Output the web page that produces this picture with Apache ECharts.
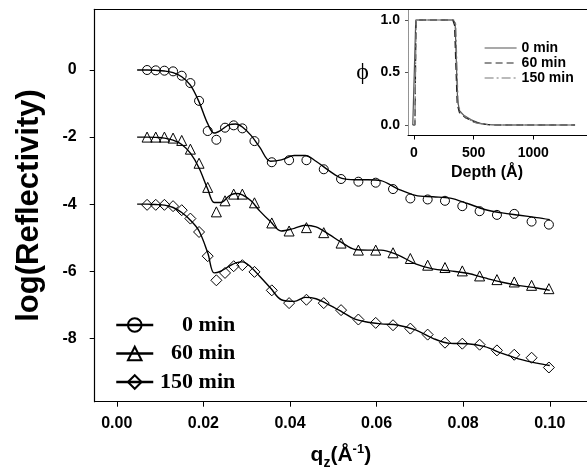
<!DOCTYPE html>
<html>
<head>
<meta charset="utf-8">
<script src="https://cdn.jsdelivr.net/npm/echarts@6/dist/echarts.min.js"></script>
<style>
  html, body { margin: 0; padding: 0; background: #fff; }
  #chart { width: 587px; height: 475px; }
</style>
</head>
<body>
<div id="chart"></div>
<script>
// Measured reflectivity (log10) versus momentum transfer q_z, three annealing times
const qData = [0.007, 0.009, 0.011, 0.013, 0.015, 0.017, 0.019, 0.021, 0.023, 0.025,
  0.027, 0.029, 0.0318, 0.0358, 0.0398, 0.0438, 0.0478, 0.0518, 0.0558, 0.0598,
  0.0638, 0.0678, 0.0718, 0.0758, 0.0798, 0.0838, 0.0878, 0.0918, 0.0958, 0.0998];
const refl0 = [0, -0.01, -0.02, -0.04, -0.17, -0.39, -0.92, -1.82, -2.08, -1.72,
  -1.65, -1.74, -2.12, -2.75, -2.69, -2.69, -2.96, -3.25, -3.33, -3.36,
  -3.55, -3.83, -3.86, -3.90, -4.06, -4.21, -4.32, -4.29, -4.52, -4.61];
const refl60 = [-2.0, -2.0, -2.0, -2.03, -2.1, -2.36, -2.78, -3.5, -4.23, -3.9,
  -3.7, -3.7, -3.96, -4.56, -4.8, -4.7, -4.85, -5.16, -5.37, -5.37,
  -5.45, -5.62, -5.82, -5.89, -5.99, -6.14, -6.25, -6.32, -6.42, -6.52];
const refl150 = [-4.02, -4.02, -4.02, -4.06, -4.18, -4.43, -4.83, -5.55, -6.27, -6.05,
  -5.85, -5.82, -6.02, -6.57, -6.95, -6.85, -6.95, -7.16, -7.44, -7.54,
  -7.61, -7.71, -7.89, -8.13, -8.16, -8.19, -8.36, -8.49, -8.58, -8.87];

// Model fits
const qFit = [0.0047, 0.007, 0.009, 0.011, 0.013, 0.015, 0.017, 0.019, 0.021, 0.0225,
  0.024, 0.026, 0.0275, 0.029, 0.031, 0.033, 0.0355, 0.038, 0.041, 0.0435,
  0.046, 0.049, 0.052, 0.055, 0.058, 0.061, 0.065, 0.069, 0.073, 0.077,
  0.081, 0.085, 0.089, 0.093, 0.097, 0.1];
const fit0 = [0, 0, -0.01, -0.03, -0.08, -0.2, -0.45, -0.95, -1.6, -1.88,
  -1.8, -1.63, -1.61, -1.7, -1.95, -2.3, -2.72, -2.68, -2.55, -2.55,
  -2.72, -3.0, -3.23, -3.27, -3.27, -3.3, -3.55, -3.74, -3.78, -3.82,
  -3.98, -4.16, -4.26, -4.33, -4.4, -4.46];
const fit60 = [-2.0, -2.0, -2.01, -2.03, -2.09, -2.22, -2.48, -2.92, -3.55, -3.95,
  -3.95, -3.75, -3.68, -3.72, -3.9, -4.2, -4.52, -4.8, -4.72, -4.63,
  -4.68, -4.9, -5.15, -5.35, -5.37, -5.37, -5.52, -5.78, -5.93, -5.99,
  -6.06, -6.2, -6.33, -6.43, -6.5, -6.57];
const fit150 = [-4.0, -4.0, -4.01, -4.03, -4.1, -4.25, -4.48, -4.8, -5.45, -6.05,
  -6.0, -5.85, -5.75, -5.72, -5.88, -6.15, -6.5, -6.85, -6.9, -6.78,
  -6.82, -7.0, -7.21, -7.43, -7.52, -7.57, -7.61, -7.75, -8.0, -8.15,
  -8.16, -8.25, -8.45, -8.62, -8.74, -8.81];

// Volume-fraction depth profiles (inset)
const depth0 = [-10, 5, 15, 330, 345, 355, 365, 380, 420, 480, 540, 600, 700, 1350];
const phi0 = [0, 0, 1, 1, 0.97, 0.6, 0.25, 0.14, 0.09, 0.05, 0.02, 0.005, 0, 0];
const depth60 = [-10, 8, 18, 325, 340, 350, 362, 380, 430, 500, 580, 650, 1350];
const phi60 = [0, 0, 1, 1, 0.95, 0.6, 0.2, 0.12, 0.07, 0.03, 0.01, 0, 0];
const depth150 = [-10, 8, 18, 335, 350, 360, 370, 390, 450, 520, 600, 700, 1350];
const phi150 = [0, 0, 1, 1, 0.96, 0.55, 0.2, 0.12, 0.06, 0.02, 0.005, 0, 0];

const timeLabels = ['0 min', '60 min', '150 min'];
const qTicks = [0, 0.02, 0.04, 0.06, 0.08, 0.1];
const reflTicks = [-8, -6, -4, -2, 0];
const depthTicks = [0, 500, 1000];
const phiTicks = [0, 0.5, 1.0];

const zip = (xs, ys) => xs.map((x, i) => [x, ys[i]]);

const SANS = 'Liberation Sans, Arial, sans-serif';
const SERIF = 'Liberation Serif, Times New Roman, serif';

const markerSeries = [
  { name: timeLabels[0], data: zip(qData, refl0), symbol: 'circle', symbolSize: 9 },
  { name: timeLabels[1], data: zip(qData, refl60), symbol: 'triangle', symbolSize: 10 },
  { name: timeLabels[2], data: zip(qData, refl150), symbol: 'diamond', symbolSize: 11 }
].map(s => ({
  type: 'line',
  name: s.name,
  data: s.data,
  xAxisIndex: 0, yAxisIndex: 0,
  symbol: s.symbol,
  symbolSize: s.symbolSize,
  showAllSymbol: true,
  itemStyle: { color: 'rgba(0,0,0,0)', borderColor: '#000', borderWidth: 1 },
  lineStyle: { width: 0, opacity: 0 },
  z: 4,
  animation: false
}));

const fitSeries = [fit0, fit60, fit150].map((f, i) => ({
  type: 'line',
  name: timeLabels[i] + ' fit',
  data: zip(qFit, f),
  xAxisIndex: 0, yAxisIndex: 0,
  showSymbol: false,
  smooth: 0.35,
  lineStyle: { color: '#000', width: 1.4 },
  z: 3,
  animation: false
}));

const profileStyles = [
  { color: '#555', type: 'solid' },
  { color: '#222', type: [7, 4] },
  { color: '#777', type: [9, 3, 2, 3] }
];
const profileSeries = [[depth0, phi0], [depth60, phi60], [depth150, phi150]].map((p, i) => ({
  type: 'line',
  name: timeLabels[i] + ' profile',
  data: zip(p[0], p[1]),
  xAxisIndex: 2, yAxisIndex: 1,
  showSymbol: false,
  lineStyle: { color: profileStyles[i].color, width: 1.2, type: profileStyles[i].type },
  itemStyle: { color: profileStyles[i].color },
  z: 3,
  animation: false
}));

const chart = echarts.init(document.getElementById('chart'), null, { renderer: 'canvas' });

chart.setOption({
  backgroundColor: '#fff',
  animation: false,
  grid: [
    { left: 94.7, top: 9.3, right: 0, bottom: 73.3, outerBoundsMode: 'none', containLabel: false },
    { left: 408, top: 9.5, right: 0, bottom: 339.5, outerBoundsMode: 'none', containLabel: false }
  ],
  xAxis: [
    {
      type: 'value', gridIndex: 0, min: -0.0051, max: 0.1086,
      axisLine: { show: true, onZero: false, lineStyle: { color: '#000', width: 1.2 } },
      axisTick: { show: true, length: 5, customValues: qTicks, lineStyle: { color: '#000' } },
      axisLabel: {
        customValues: qTicks, margin: 14,
        formatter: v => v.toFixed(2),
        color: '#000', fontFamily: SANS, fontWeight: 'bold', fontSize: 16
      },
      splitLine: { show: false },
      name: '{a|q}{b|z}{a|(Å}{c|-1}{a|)}',
      nameLocation: 'middle',
      nameGap: 40,
      nameTextStyle: {
        rich: {
          a: { fontFamily: SANS, fontWeight: 'bold', fontSize: 21, color: '#000' },
          b: { fontFamily: SANS, fontWeight: 'bold', fontSize: 14, color: '#000', padding: [14, 0, 0, 0] },
          c: { fontFamily: SANS, fontWeight: 'bold', fontSize: 13, color: '#000', padding: [0, 0, 12, 0] }
        }
      }
    },
    {
      // top frame line of the main plot
      type: 'value', gridIndex: 0, position: 'top', min: -0.0051, max: 0.1086,
      axisLine: { show: true, onZero: false, lineStyle: { color: '#000', width: 1.2 } },
      axisTick: { show: false }, axisLabel: { show: false }, splitLine: { show: false }
    },
    {
      type: 'value', gridIndex: 1, min: -50, max: 1450,
      axisLine: { show: true, onZero: false, lineStyle: { color: '#000', width: 1 } },
      axisTick: { show: true, length: 4, customValues: depthTicks, lineStyle: { color: '#000' } },
      axisLabel: {
        customValues: depthTicks, margin: 11,
        formatter: v => String(v),
        color: '#000', fontFamily: SANS, fontWeight: 'bold', fontSize: 14
      },
      splitLine: { show: false },
      name: 'Depth (Å)',
      nameLocation: 'middle',
      nameGap: 29,
      nameTextStyle: { fontFamily: SANS, fontWeight: 'bold', fontSize: 16, color: '#000', padding: [0, 21, 0, 0] }
    }
  ],
  yAxis: [
    {
      type: 'value', gridIndex: 0, min: -9.89, max: 1.81,
      axisLine: { show: true, onZero: false, lineStyle: { color: '#000', width: 1.2 } },
      axisTick: { show: true, length: 5, customValues: reflTicks, lineStyle: { color: '#000' } },
      axisLabel: {
        customValues: reflTicks, margin: 18,
        formatter: v => String(Math.round(v)),
        color: '#000', fontFamily: SANS, fontWeight: 'bold', fontSize: 16
      },
      splitLine: { show: false },
      name: 'log(Reflectivity)',
      nameLocation: 'middle',
      nameGap: 50,
      nameTextStyle: { fontFamily: SANS, fontWeight: 'bold', fontSize: 31, color: '#000' }
    },
    {
      type: 'value', gridIndex: 1, min: -0.1, max: 1.1,
      axisLine: { show: true, onZero: false, lineStyle: { color: '#888', width: 1, type: 'dotted' } },
      axisTick: { show: true, length: 3, customValues: phiTicks, lineStyle: { color: '#555' } },
      axisLabel: {
        customValues: phiTicks, margin: 8,
        formatter: v => v.toFixed(1),
        color: '#000', fontFamily: SANS, fontWeight: 'bold', fontSize: 14
      },
      splitLine: { show: false },
      name: 'ϕ',
      nameLocation: 'middle',
      nameRotate: 0,
      nameGap: 39,
      nameTextStyle: { fontFamily: SERIF, fontSize: 24, color: '#000' }
    }
  ],
  legend: [
    {
      orient: 'vertical',
      left: 110, top: 309,
      itemWidth: 37, itemHeight: 17, itemGap: 6.5,
      data: timeLabels,
      selectedMode: false,
      lineStyle: { color: '#000', width: 2.5, opacity: 1, type: 'solid' },
      formatter: name => '{t|' + name + '}',
      textStyle: {
        rich: {
          t: { width: 77, align: 'right', fontFamily: SERIF, fontWeight: 'bold', fontSize: 22, color: '#000' }
        }
      }
    },
    {
      orient: 'vertical',
      left: 479, top: 36,
      itemWidth: 32, itemHeight: 12, itemGap: 1,
      data: timeLabels.map((t, i) => ({ name: t + ' profile', lineStyle: { type: profileStyles[i].type, color: profileStyles[i].color, width: 1.2 } })),
      selectedMode: false,
      itemStyle: { opacity: 0 },
      formatter: name => name.replace(' profile', ''),
      textStyle: { fontFamily: SANS, fontWeight: 'bold', fontSize: 14, color: '#000', lineHeight: 14 }
    }
  ],
  series: [...fitSeries, ...markerSeries, ...profileSeries]
});
</script>
</body>
</html>
